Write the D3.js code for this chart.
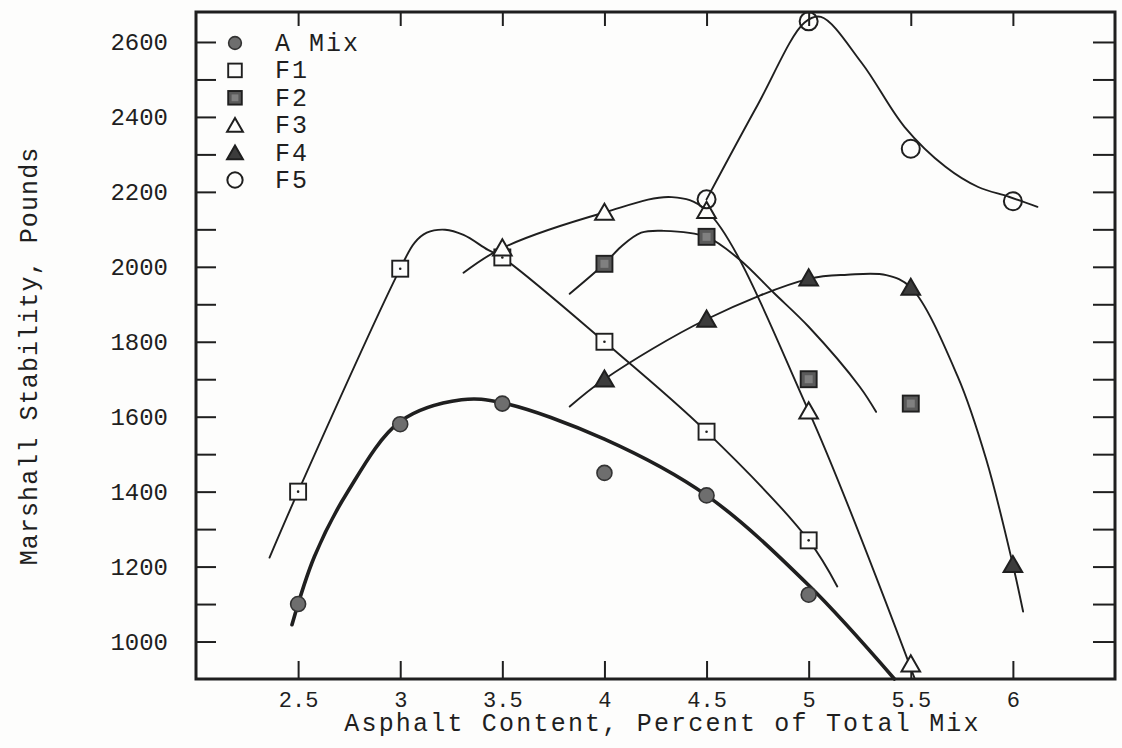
<!DOCTYPE html>
<html>
<head>
<meta charset="utf-8">
<script src="https://cdn.jsdelivr.net/npm/d3@7"></script>
<style>
  html, body { margin: 0; padding: 0; background: #fdfdfc; }
  svg { display: block; }
</style>
</head>
<body>
<div id="chart"></div>
<script>
// Asphalt content (%) at which each mix was tested
const aMixX = [2.5, 3, 3.5, 4, 4.5, 5]
const aMixY = [1100, 1580, 1635, 1450, 1390, 1125]
const f1X = [2.5, 3, 3.5, 4, 4.5, 5]
const f1Y = [1400, 1995, 2025, 1800, 1560, 1270]
const f2X = [4, 4.5, 5, 5.5]
const f2Y = [2008, 2080, 1700, 1635]
const f3X = [3.5, 4, 4.5, 5, 5.5]
const f3Y = [2050, 2145, 2150, 1615, 940]
const f4X = [4, 4.5, 5, 5.5, 6]
const f4Y = [1700, 1860, 1970, 1945, 1205]
const f5X = [4.5, 5, 5.5, 6]
const f5Y = [2180, 2655, 2315, 2175]

// hand drawn fitted curves
const aMixCurveX = [2.47, 2.58, 2.74, 3.0, 3.3, 3.5, 4.0, 4.5, 5.0, 5.42]
const aMixCurveY = [1045, 1227, 1397, 1587, 1645, 1637, 1540, 1390, 1150, 900]
const f1CurveX = [2.36, 2.5, 3.0, 3.07, 3.13, 3.22, 3.31, 3.43, 3.5, 4.0, 4.5, 5.0, 5.14]
const f1CurveY = [1224, 1400, 1995, 2064, 2091, 2099, 2085, 2045, 2025, 1800, 1560, 1270, 1147]
const f2CurveX = [3.83, 4.0, 4.08, 4.18, 4.29, 4.5, 4.66, 4.83, 5.0, 5.25, 5.33]
const f2CurveY = [1928, 2008, 2053, 2091, 2096, 2080, 2020, 1930, 1840, 1680, 1613]
const f3CurveX = [3.31, 3.5, 4.0, 4.33, 4.5, 5.0, 5.52]
const f3CurveY = [1984, 2050, 2145, 2186, 2150, 1615, 900]
const f4CurveX = [3.83, 4.0, 4.5, 5.0, 5.19, 5.38, 5.5, 5.73, 5.87, 6.0, 6.05]
const f4CurveY = [1627, 1700, 1860, 1968, 1979, 1978, 1945, 1707, 1485, 1205, 1080]
const f5CurveX = [4.5, 4.75, 4.98, 5.06, 5.26, 5.47, 5.67, 5.83, 5.98, 6.12]
const f5CurveY = [2180, 2432, 2652, 2667, 2544, 2373, 2267, 2213, 2187, 2160]

const xTicks = [2.5, 3, 3.5, 4, 4.5, 5, 5.5, 6]
const yTicks = d3.range(1000, 2601, 100)
const yLabels = [1000, 1200, 1400, 1600, 1800, 2000, 2200, 2400, 2600]

const legendNames = ['A Mix', 'F1', 'F2', 'F3', 'F4', 'F5']

const CONFIG = {
  width: 1122,
  height: 748,
  plot: { left: 196, right: 1115, top: 12, bottom: 679 },
  font: '"Courier New", "Liberation Mono", monospace',
  colors: {
    ink: '#1f1f1f',
    fillDark: '#5a5a5a',
    fillMid: '#6e6e6e',
    paper: '#fdfdfc'
  }
}

const zip = (xs, ys) => xs.map((x, i) => ({ x, y: ys[i] }))

const series = [
  { name: 'A Mix', marker: 'dot', pts: zip(aMixX, aMixY), curve: zip(aMixCurveX, aMixCurveY), lw: 3.6 },
  { name: 'F1', marker: 'square', pts: zip(f1X, f1Y), curve: zip(f1CurveX, f1CurveY), lw: 1.9 },
  { name: 'F2', marker: 'squareFilled', pts: zip(f2X, f2Y), curve: zip(f2CurveX, f2CurveY), lw: 1.9 },
  { name: 'F3', marker: 'triangle', pts: zip(f3X, f3Y), curve: zip(f3CurveX, f3CurveY), lw: 1.9 },
  { name: 'F4', marker: 'triangleFilled', pts: zip(f4X, f4Y), curve: zip(f4CurveX, f4CurveY), lw: 1.9 },
  { name: 'F5', marker: 'circle', pts: zip(f5X, f5Y), curve: zip(f5CurveX, f5CurveY), lw: 1.9 }
]

const drawMarker = (g, type, scale = 1) => {
  const c = CONFIG.colors
  if (type === 'dot') {
    g.append('circle').attr('r', 7.5 * scale)
      .attr('fill', c.fillMid).attr('stroke', '#333').attr('stroke-width', 1.6)
  } else if (type === 'circle') {
    g.append('circle').attr('r', 9 * scale)
      .attr('fill', 'none').attr('stroke', c.ink).attr('stroke-width', 2)
  } else if (type === 'square' || type === 'squareFilled') {
    const s = 16 * scale
    g.append('rect').attr('x', -s / 2).attr('y', -s / 2).attr('width', s).attr('height', s)
      .attr('fill', type === 'square' ? c.paper : c.fillDark)
      .attr('stroke', c.ink).attr('stroke-width', 1.9)
    if (type === 'square' && scale === 1) {
      g.append('circle').attr('r', 1.3).attr('fill', c.ink)
    }
    if (type === 'squareFilled') {
      g.append('rect').attr('x', -s / 4).attr('y', -s / 4).attr('width', s / 2).attr('height', s / 2)
        .attr('fill', '#9a9a9a').attr('opacity', 0.6)
    }
  } else {
    const sym = d3.symbol().type(d3.symbolTriangle).size(150 * scale * scale)
    g.append('path').attr('d', sym())
      .attr('transform', 'translate(0,2)')
      .attr('fill', type === 'triangle' ? c.paper : '#3c3c3c')
      .attr('stroke', c.ink).attr('stroke-width', 2)
  }
}

const createStabilityChart = (containerId) => {
  const { plot, colors, font } = CONFIG
  const svg = d3.select(`#${containerId}`)
    .append('svg')
    .attr('width', CONFIG.width)
    .attr('height', CONFIG.height)

  svg.append('rect').attr('width', CONFIG.width).attr('height', CONFIG.height).attr('fill', colors.paper)

  const x = d3.scaleLinear().domain([2, 6.5]).range([plot.left, plot.right])
  const y = d3.scaleLinear().domain([900, 2680]).range([plot.bottom, plot.top])

  const styleTicks = (g, size) => {
    g.select('.domain').remove()
    g.selectAll('.tick line').attr('stroke', colors.ink).attr('stroke-width', 2)
    g.selectAll('.tick text')
      .attr('fill', colors.ink)
      .style('font-family', font)
      .style('font-size', size)
  }

  // left axis, ticks pointing into the plot
  svg.append('g')
    .attr('transform', `translate(${plot.left},0)`)
    .call(d3.axisLeft(y).tickValues(yTicks).tickSize(-20).tickPadding(28)
      .tickFormat((d) => (yLabels.includes(d) ? d : '')))
    .call((g) => styleTicks(g, '24px'))

  // right axis, no labels
  svg.append('g')
    .attr('transform', `translate(${plot.right},0)`)
    .call(d3.axisRight(y).tickValues(yTicks).tickSize(-22).tickFormat(''))
    .call((g) => styleTicks(g, '1px'))

  // bottom axis, labels set on their baseline just above the title
  svg.append('g')
    .attr('transform', `translate(0,${plot.bottom})`)
    .call(d3.axisBottom(x).tickValues(xTicks).tickSize(-18)
      .tickFormat((d) => d))
    .call((g) => {
      styleTicks(g, '22px')
      g.selectAll('.tick text').attr('y', 28).attr('dy', null)
    })

  // top axis, short ticks only
  svg.append('g')
    .attr('transform', `translate(0,${plot.top})`)
    .call(d3.axisTop(x).tickValues(xTicks).tickSize(-14).tickFormat(''))
    .call((g) => styleTicks(g, '1px'))

  // frame
  svg.append('rect')
    .attr('x', plot.left).attr('y', plot.top)
    .attr('width', plot.right - plot.left).attr('height', plot.bottom - plot.top)
    .attr('fill', 'none').attr('stroke', colors.ink).attr('stroke-width', 3)

  // axis titles
  svg.append('text')
    .attr('x', (plot.left + plot.right) / 2 + 7)
    .attr('y', 731)
    .attr('text-anchor', 'middle')
    .style('font-family', font).style('font-size', '25px').style('letter-spacing', '2.2px')
    .attr('fill', colors.ink)
    .text('Asphalt Content, Percent of Total Mix')

  svg.append('text')
    .attr('transform', 'translate(37,356) rotate(-90)')
    .attr('text-anchor', 'middle')
    .style('font-family', font).style('font-size', '25px').style('letter-spacing', '1.1px')
    .attr('fill', colors.ink)
    .text('Marshall Stability, Pounds')

  // fitted curves
  const line = d3.line()
    .x((d) => x(d.x))
    .y((d) => y(d.y))
    .curve(d3.curveCatmullRom.alpha(0.5))

  const plotArea = svg.append('g')

  plotArea.selectAll('.fit')
    .data(series)
    .enter()
    .append('path')
    .attr('class', 'fit')
    .attr('d', (d) => line(d.curve))
    .attr('fill', 'none')
    .attr('stroke', colors.ink)
    .attr('stroke-width', (d) => d.lw)
    .attr('stroke-linecap', 'round')

  // test points
  series.forEach((s) => {
    plotArea.selectAll(null)
      .data(s.pts)
      .enter()
      .append('g')
      .attr('transform', (d) => `translate(${x(d.x)},${y(d.y)})`)
      .each(function () { drawMarker(d3.select(this), s.marker) })
  })

  // legend
  const legend = svg.append('g').attr('transform', 'translate(235,43)')
  legendNames.forEach((name, i) => {
    const s = series.find((d) => d.name === name)
    const row = legend.append('g').attr('transform', `translate(0,${i * 27.4})`)
    drawMarker(row.append('g'), s.marker, 0.85)
    row.append('text')
      .attr('x', 40)
      .attr('y', 8)
      .style('font-family', font).style('font-size', '25px').style('letter-spacing', '2px')
      .attr('fill', colors.ink)
      .text(name)
  })
}

createStabilityChart('chart')
</script>
</body>
</html>
